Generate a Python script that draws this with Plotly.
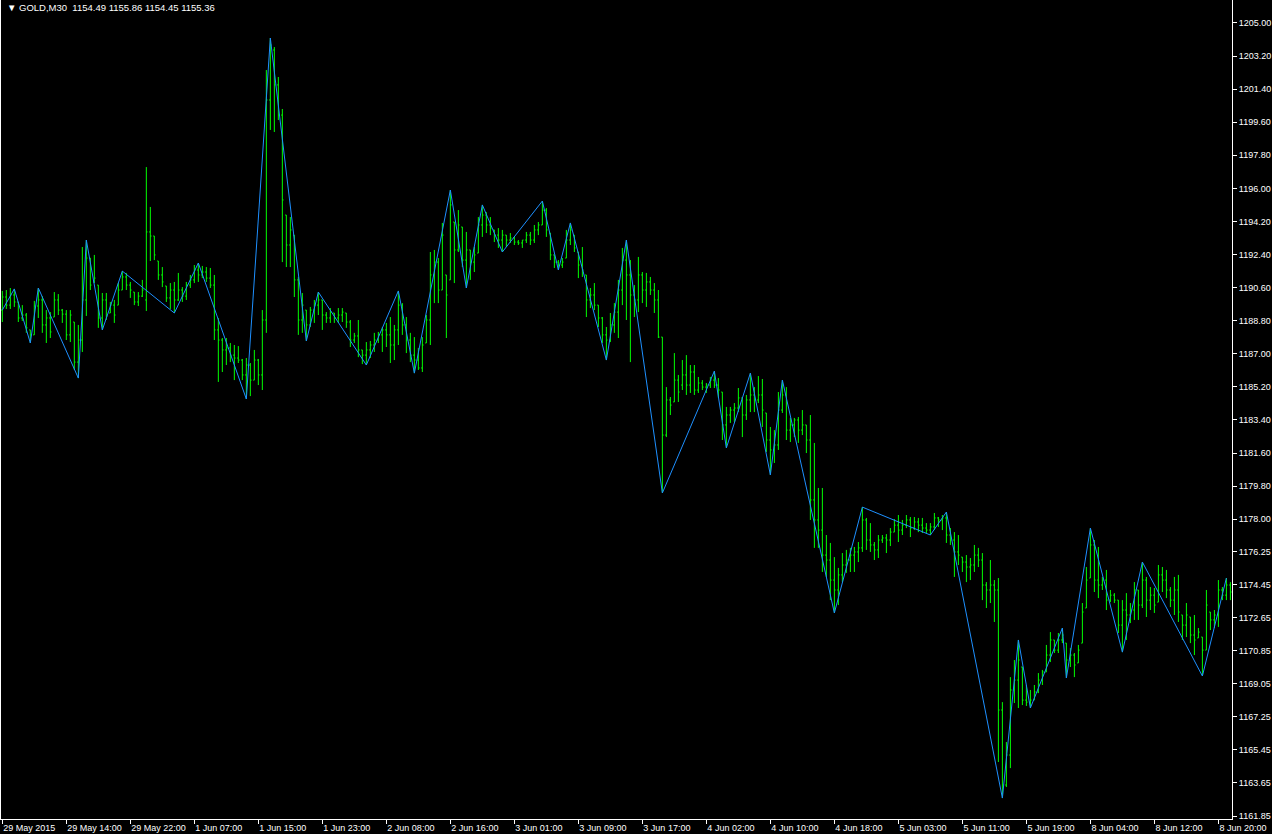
import plotly.graph_objects as go

# GOLD M30, one entry per bar (bar 0 = 29 May 2015 06:00)
bar_open = [
    1189.38, 1190.09, 1189.65, 1190.20, 1189.82, 1188.95, 1189.11, 1188.30, 1188.03, 1189.60,
    1189.93, 1188.57, 1188.95, 1189.00, 1189.93, 1189.38, 1189.16, 1188.03, 1188.73, 1186.55,
    1187.75, 1189.93, 1192.21, 1190.91, 1190.74, 1188.95, 1189.93, 1189.22, 1189.65, 1189.65,
    1190.47, 1191.18, 1190.74, 1190.36, 1189.82, 1190.14, 1189.93, 1193.63, 1193.41, 1192.05,
    1191.29, 1190.69, 1190.04, 1190.47, 1189.93, 1190.47, 1190.14, 1190.74, 1191.02, 1191.56,
    1191.29, 1191.45, 1191.12, 1190.74, 1188.30, 1187.75, 1187.21, 1187.32, 1186.93, 1186.77,
    1186.66, 1185.85, 1186.39, 1185.57, 1186.66, 1185.85, 1188.84, 1200.81, 1203.53, 1201.63,
    1199.99, 1194.55, 1192.92, 1193.46, 1191.02, 1188.84, 1189.38, 1188.57, 1189.38, 1189.65,
    1189.93, 1189.11, 1188.95, 1189.22, 1188.95, 1189.11, 1189.22, 1188.73, 1187.75, 1187.97,
    1187.21, 1186.93, 1187.21, 1187.48, 1187.75, 1188.03, 1188.30, 1188.03, 1187.48, 1188.30,
    1189.65, 1188.57, 1187.75, 1186.93, 1186.66, 1186.23, 1187.59, 1188.84, 1191.29, 1191.99,
    1190.47, 1191.29, 1191.02, 1194.17, 1192.65, 1193.90, 1192.10, 1192.65, 1191.99, 1192.48,
    1194.01, 1194.55, 1194.01, 1193.74, 1193.46, 1193.19, 1193.46, 1193.19, 1193.30, 1193.08,
    1193.03, 1193.19, 1193.46, 1193.19, 1193.74, 1194.01, 1194.82, 1193.57, 1192.38, 1191.99,
    1191.83, 1192.21, 1193.19, 1193.46, 1192.54, 1191.83, 1191.29, 1189.93, 1190.20, 1189.65,
    1188.95, 1188.03, 1187.75, 1188.57, 1189.27, 1190.47, 1192.10, 1191.29, 1190.20, 1189.93,
    1191.29, 1190.47, 1190.91, 1190.47, 1189.93, 1187.91, 1182.58, 1184.49, 1184.38, 1185.57,
    1185.30, 1185.85, 1185.30, 1186.01, 1185.03, 1185.41, 1185.19, 1185.30, 1185.57, 1185.30,
    1184.92, 1183.13, 1183.67, 1183.94, 1184.05, 1184.60, 1183.67, 1184.49, 1184.76, 1184.49,
    1184.76, 1183.78, 1182.31, 1181.77, 1182.04, 1183.94, 1184.76, 1182.85, 1183.13, 1183.40,
    1182.85, 1183.13, 1182.31, 1179.05, 1177.96, 1177.41, 1176.05, 1175.78, 1174.69, 1174.15,
    1174.97, 1175.51, 1175.78, 1176.05, 1176.22, 1176.44, 1177.96, 1176.87, 1176.60, 1176.33,
    1176.87, 1176.98, 1176.87, 1177.30, 1177.68, 1177.41, 1177.68, 1177.96, 1177.52, 1177.85,
    1177.68, 1177.52, 1177.41, 1177.58, 1178.07, 1177.96, 1178.07, 1177.14, 1176.87, 1176.22,
    1175.94, 1175.67, 1175.40, 1175.51, 1176.05, 1175.78, 1174.42, 1174.15, 1174.42, 1174.15,
    1167.62, 1163.54, 1165.17, 1168.71, 1169.25, 1169.96, 1168.16, 1168.05, 1168.16, 1168.60,
    1169.25, 1169.69, 1170.61, 1171.43, 1170.88, 1171.43, 1171.26, 1170.34, 1170.61, 1170.18,
    1171.26, 1173.17, 1174.80, 1176.60, 1174.69, 1174.42, 1174.69, 1173.60, 1173.87, 1173.60,
    1172.24, 1173.06, 1172.79, 1173.06, 1174.15, 1173.33, 1174.69, 1173.60, 1173.87, 1173.49,
    1174.97, 1174.69, 1174.15, 1173.60, 1174.15, 1172.79, 1172.24, 1172.68, 1171.70, 1171.54,
    1171.59, 1170.88, 1172.95, 1172.52, 1172.79, 1174.15, 1173.87, 1174.42,
]

bar_high = [
    1190.42, 1190.47, 1190.58, 1190.53, 1189.82, 1189.65, 1189.22, 1188.30, 1189.88, 1190.58,
    1190.14, 1189.38, 1189.27, 1190.36, 1190.25, 1189.44, 1189.38, 1189.38, 1188.73, 1188.57,
    1192.81, 1193.19, 1192.21, 1192.38, 1190.74, 1190.31, 1190.31, 1189.82, 1189.93, 1190.85,
    1191.50, 1191.40, 1190.91, 1190.36, 1190.36, 1191.02, 1197.16, 1194.99, 1193.41, 1192.05,
    1191.72, 1190.69, 1190.85, 1190.91, 1191.40, 1190.63, 1190.91, 1191.29, 1191.83, 1191.94,
    1191.78, 1191.72, 1191.67, 1191.29, 1188.95, 1187.86, 1187.86, 1187.59, 1187.48, 1187.42,
    1186.72, 1186.77, 1186.50, 1187.21, 1186.72, 1189.38, 1202.44, 1204.18, 1203.69, 1202.06,
    1200.32, 1194.55, 1194.44, 1193.46, 1191.18, 1190.31, 1189.38, 1189.55, 1189.93, 1190.36,
    1189.93, 1189.27, 1189.49, 1189.22, 1189.49, 1189.49, 1189.22, 1188.84, 1188.14, 1188.84,
    1187.21, 1187.64, 1187.70, 1188.14, 1188.19, 1188.46, 1188.68, 1189.00, 1188.57, 1190.42,
    1189.76, 1189.00, 1188.14, 1187.91, 1187.32, 1187.91, 1189.11, 1192.54, 1192.65, 1192.21,
    1194.12, 1191.29, 1195.91, 1194.17, 1194.82, 1193.90, 1193.63, 1192.65, 1192.81, 1194.44,
    1195.10, 1194.71, 1194.44, 1193.74, 1193.84, 1193.74, 1193.46, 1193.57, 1193.36, 1193.19,
    1193.19, 1193.63, 1193.63, 1194.01, 1194.17, 1195.31, 1194.93, 1193.57, 1192.38, 1192.10,
    1192.21, 1193.74, 1194.12, 1193.46, 1192.54, 1192.81, 1191.29, 1190.58, 1190.85, 1189.65,
    1189.00, 1188.46, 1189.22, 1189.76, 1191.02, 1192.76, 1193.19, 1192.10, 1190.74, 1192.27,
    1191.45, 1191.40, 1191.18, 1190.85, 1190.47, 1187.91, 1185.19, 1184.65, 1187.04, 1185.85,
    1186.66, 1186.93, 1186.39, 1186.39, 1185.74, 1185.57, 1185.41, 1185.74, 1186.06, 1185.68,
    1184.92, 1184.11, 1184.11, 1184.32, 1185.14, 1184.60, 1184.76, 1185.95, 1185.19, 1185.79,
    1185.63, 1183.78, 1183.02, 1182.85, 1184.92, 1185.57, 1185.19, 1183.51, 1183.51, 1183.56,
    1183.94, 1183.13, 1183.67, 1182.15, 1179.70, 1179.70, 1177.14, 1176.71, 1175.94, 1175.35,
    1176.16, 1176.33, 1176.44, 1176.49, 1176.76, 1178.66, 1178.07, 1177.79, 1176.76, 1177.14,
    1177.14, 1177.19, 1177.52, 1178.01, 1178.23, 1177.96, 1178.23, 1178.12, 1178.12, 1178.07,
    1178.07, 1177.79, 1177.79, 1178.34, 1178.12, 1178.23, 1178.39, 1177.52, 1177.30, 1177.14,
    1175.94, 1176.05, 1175.89, 1176.60, 1176.44, 1176.16, 1174.58, 1175.78, 1174.69, 1174.80,
    1168.05, 1165.88, 1169.41, 1170.34, 1171.43, 1169.96, 1168.98, 1168.71, 1168.98, 1169.63,
    1169.80, 1171.16, 1171.86, 1171.43, 1171.81, 1172.08, 1171.26, 1170.99, 1170.72, 1171.16,
    1173.44, 1175.40, 1177.52, 1176.87, 1176.49, 1174.86, 1175.24, 1174.15, 1173.98, 1173.60,
    1173.60, 1173.98, 1173.44, 1174.58, 1174.15, 1175.67, 1174.86, 1174.31, 1174.26, 1175.51,
    1175.40, 1175.24, 1174.31, 1174.86, 1174.97, 1172.79, 1173.44, 1172.68, 1172.79, 1172.08,
    1171.59, 1174.15, 1172.95, 1173.06, 1174.69, 1174.31, 1174.80, 1174.58,
]

bar_low = [
    1188.73, 1189.44, 1189.44, 1189.55, 1188.73, 1188.79, 1188.14, 1187.59, 1188.03, 1188.95,
    1188.14, 1187.59, 1187.86, 1189.00, 1189.11, 1188.68, 1187.75, 1187.64, 1186.12, 1185.68,
    1187.10, 1189.06, 1190.47, 1190.85, 1188.41, 1188.30, 1188.84, 1189.22, 1188.68, 1189.65,
    1190.47, 1190.47, 1190.04, 1189.65, 1189.60, 1190.09, 1189.33, 1192.05, 1192.10, 1191.02,
    1190.63, 1189.82, 1189.44, 1189.22, 1189.88, 1189.82, 1189.93, 1190.58, 1190.85, 1190.91,
    1191.12, 1190.91, 1190.58, 1187.75, 1185.47, 1186.01, 1186.39, 1186.55, 1185.57, 1186.50,
    1185.57, 1184.54, 1184.70, 1185.57, 1185.30, 1185.03, 1188.14, 1199.18, 1199.07, 1199.72,
    1191.99, 1191.72, 1191.72, 1190.09, 1188.03, 1188.14, 1187.70, 1188.46, 1188.68, 1189.11,
    1188.30, 1188.68, 1188.68, 1188.68, 1188.68, 1188.73, 1188.41, 1187.37, 1187.59, 1186.82,
    1186.44, 1186.39, 1186.77, 1187.10, 1187.59, 1187.10, 1187.37, 1186.50, 1186.66, 1187.48,
    1188.03, 1187.04, 1186.55, 1185.95, 1186.12, 1186.01, 1187.59, 1187.48, 1189.76, 1189.76,
    1190.47, 1187.86, 1191.02, 1190.85, 1192.54, 1191.72, 1190.58, 1191.02, 1191.45, 1192.48,
    1193.36, 1193.57, 1193.46, 1193.08, 1192.76, 1192.54, 1192.81, 1193.03, 1192.92, 1192.92,
    1192.76, 1193.03, 1192.92, 1193.03, 1193.46, 1194.01, 1193.36, 1192.10, 1191.67, 1191.56,
    1191.67, 1192.21, 1192.92, 1192.54, 1191.12, 1191.18, 1189.00, 1189.49, 1189.38, 1188.46,
    1187.59, 1186.66, 1187.64, 1188.14, 1187.86, 1189.65, 1188.84, 1186.55, 1189.00, 1189.27,
    1189.76, 1189.55, 1190.20, 1189.22, 1187.86, 1179.43, 1182.47, 1183.67, 1184.38, 1184.38,
    1185.03, 1184.76, 1184.87, 1184.76, 1184.87, 1185.03, 1184.87, 1185.14, 1185.14, 1184.60,
    1182.31, 1181.88, 1183.24, 1183.29, 1183.83, 1182.47, 1183.40, 1183.83, 1183.83, 1184.32,
    1183.02, 1181.66, 1180.41, 1181.06, 1181.77, 1183.78, 1182.31, 1182.20, 1182.47, 1182.15,
    1182.58, 1181.60, 1177.96, 1176.44, 1176.44, 1175.13, 1174.86, 1173.60, 1172.90, 1173.33,
    1174.58, 1175.08, 1175.13, 1175.13, 1175.67, 1176.22, 1176.33, 1176.22, 1175.78, 1175.89,
    1176.71, 1176.16, 1176.54, 1177.30, 1176.76, 1177.14, 1177.52, 1177.03, 1177.41, 1177.30,
    1177.25, 1177.25, 1177.14, 1177.41, 1177.58, 1177.41, 1176.71, 1176.60, 1174.86, 1175.51,
    1175.13, 1174.58, 1174.69, 1175.13, 1175.40, 1173.60, 1173.17, 1173.44, 1172.41, 1164.79,
    1162.83, 1163.43, 1164.46, 1168.00, 1167.73, 1167.89, 1167.84, 1167.73, 1168.16, 1168.54,
    1168.98, 1169.69, 1170.23, 1170.72, 1170.72, 1171.26, 1169.36, 1169.96, 1169.41, 1170.18,
    1171.26, 1173.17, 1174.80, 1174.04, 1173.71, 1174.15, 1173.06, 1173.49, 1173.44, 1171.81,
    1170.77, 1171.43, 1172.35, 1172.52, 1172.52, 1173.17, 1172.68, 1173.06, 1172.90, 1173.49,
    1174.04, 1173.71, 1173.22, 1172.79, 1172.41, 1171.43, 1171.59, 1171.26, 1170.61, 1171.54,
    1169.47, 1170.88, 1171.97, 1172.08, 1172.14, 1173.60, 1173.60, 1173.60,
]

bar_close = [
    1190.09, 1189.65, 1190.20, 1189.82, 1188.95, 1189.11, 1188.41, 1188.03, 1189.60, 1189.93,
    1188.57, 1188.95, 1188.19, 1189.93, 1189.38, 1189.16, 1188.03, 1189.11, 1186.55, 1187.75,
    1189.93, 1192.21, 1190.74, 1191.12, 1188.95, 1189.93, 1189.06, 1189.65, 1189.11, 1190.47,
    1191.18, 1190.74, 1190.47, 1189.82, 1190.14, 1190.47, 1193.63, 1193.41, 1192.38, 1191.29,
    1190.91, 1190.04, 1190.47, 1189.93, 1190.47, 1190.14, 1190.74, 1191.02, 1191.56, 1191.29,
    1191.45, 1191.12, 1190.74, 1188.30, 1187.75, 1187.21, 1187.32, 1186.93, 1186.77, 1186.66,
    1185.85, 1186.39, 1185.57, 1186.66, 1185.85, 1188.84, 1200.81, 1203.80, 1201.63, 1199.99,
    1195.37, 1192.92, 1193.74, 1191.02, 1188.84, 1189.65, 1188.57, 1189.38, 1189.65, 1189.93,
    1189.11, 1188.95, 1189.27, 1188.95, 1189.11, 1189.27, 1188.73, 1187.75, 1187.97, 1187.21,
    1186.93, 1187.21, 1187.48, 1187.75, 1188.03, 1188.30, 1188.03, 1187.48, 1188.30, 1189.65,
    1188.57, 1187.75, 1186.93, 1186.66, 1186.23, 1187.48, 1188.84, 1191.29, 1191.99, 1190.47,
    1193.46, 1190.20, 1195.10, 1192.65, 1194.01, 1192.10, 1192.65, 1191.99, 1192.38, 1194.01,
    1194.55, 1194.01, 1193.84, 1193.46, 1193.19, 1193.46, 1193.19, 1193.30, 1193.08, 1193.03,
    1193.19, 1193.46, 1193.19, 1193.74, 1194.01, 1194.82, 1193.74, 1192.38, 1191.99, 1191.83,
    1191.99, 1193.19, 1193.74, 1192.76, 1191.83, 1191.56, 1189.93, 1190.20, 1189.65, 1188.95,
    1188.03, 1187.75, 1188.57, 1189.27, 1190.47, 1192.10, 1191.29, 1190.20, 1189.93, 1191.29,
    1190.47, 1190.91, 1190.47, 1189.93, 1187.91, 1182.58, 1184.49, 1184.21, 1185.57, 1184.92,
    1185.85, 1185.30, 1186.01, 1185.03, 1185.41, 1185.19, 1185.30, 1185.57, 1185.30, 1185.03,
    1183.13, 1183.67, 1183.94, 1184.05, 1184.60, 1183.67, 1184.49, 1184.76, 1184.49, 1184.76,
    1183.94, 1182.31, 1181.77, 1182.04, 1183.94, 1184.76, 1182.85, 1183.13, 1183.40, 1182.85,
    1183.13, 1182.31, 1179.05, 1177.96, 1177.41, 1176.05, 1175.78, 1174.69, 1174.15, 1174.97,
    1175.51, 1175.78, 1176.05, 1176.22, 1176.44, 1177.96, 1176.87, 1176.60, 1176.33, 1176.87,
    1176.98, 1176.87, 1177.30, 1177.68, 1177.41, 1177.68, 1177.96, 1177.52, 1177.85, 1177.68,
    1177.52, 1177.41, 1177.58, 1178.07, 1177.96, 1178.07, 1177.14, 1176.87, 1176.22, 1176.05,
    1175.67, 1175.40, 1175.51, 1176.05, 1175.78, 1174.42, 1174.15, 1174.42, 1174.15, 1167.62,
    1163.54, 1165.17, 1168.71, 1169.25, 1170.34, 1168.16, 1168.05, 1168.16, 1168.60, 1169.25,
    1169.69, 1170.61, 1171.43, 1170.88, 1171.43, 1171.70, 1170.34, 1170.61, 1170.07, 1170.88,
    1172.95, 1174.69, 1176.60, 1174.69, 1174.42, 1174.69, 1173.60, 1173.87, 1173.60, 1172.24,
    1173.06, 1172.79, 1173.06, 1174.15, 1173.33, 1174.69, 1173.60, 1173.87, 1173.33, 1174.97,
    1174.69, 1174.15, 1173.60, 1174.15, 1172.95, 1172.24, 1172.79, 1171.70, 1171.43, 1171.86,
    1170.88, 1173.33, 1172.52, 1172.79, 1174.15, 1173.87, 1174.42, 1174.04,
]

# ZigZag turning points: bar index and price
zigzag_bar = [0, 3, 7, 9, 19, 21, 25, 30, 43, 49, 61, 67, 76, 79, 91, 99, 103, 112, 116, 120,
              125, 135, 139, 142, 151, 156, 165, 178, 181, 187, 192, 195, 208, 215, 232, 236,
              250, 254, 257, 265, 266, 272, 280, 285, 300, 306]
zigzag_price = [1189.38, 1190.53, 1187.59, 1190.58, 1185.68, 1193.19, 1188.30, 1191.50, 1189.22,
                1191.94, 1184.54, 1204.18, 1187.70, 1190.36, 1186.39, 1190.42, 1185.95, 1195.91,
                1190.58, 1195.10, 1192.54, 1195.31, 1191.56, 1194.12, 1186.66, 1193.19, 1179.43,
                1186.06, 1181.88, 1185.95, 1180.41, 1185.57, 1172.90, 1178.66, 1177.14, 1178.39,
                1162.83, 1171.43, 1167.73, 1172.08, 1169.36, 1177.52, 1170.77, 1175.67, 1169.47,
                1174.80]

time_labels = ["29 May 2015", "29 May 14:00", "29 May 22:00", "1 Jun 07:00", "1 Jun 15:00",
               "1 Jun 23:00", "2 Jun 08:00", "2 Jun 16:00", "3 Jun 01:00", "3 Jun 09:00",
               "3 Jun 17:00", "4 Jun 02:00", "4 Jun 10:00", "4 Jun 18:00", "5 Jun 03:00",
               "5 Jun 11:00", "5 Jun 19:00", "8 Jun 04:00", "8 Jun 12:00", "8 Jun 20:00"]

price_ticks = [1205.00, 1203.20, 1201.40, 1199.60, 1197.80, 1196.00, 1194.20, 1192.40, 1190.60,
               1188.80, 1187.00, 1185.20, 1183.40, 1181.60, 1179.80, 1178.00, 1176.25, 1174.45,
               1172.65, 1170.85, 1169.05, 1167.25, 1165.45, 1163.65, 1161.85]

bar_index = list(range(len(bar_close)))
tick_bars = list(range(0, len(bar_close), 16))

green = "#00ff00"
font = dict(family="Liberation Sans, Arial, sans-serif", size=9, color="#ffffff")

fig = go.Figure()
fig.add_trace(go.Ohlc(
    x=bar_index, open=bar_open, high=bar_high, low=bar_low, close=bar_close,
    increasing=dict(line=dict(color=green, width=1)),
    decreasing=dict(line=dict(color=green, width=1)),
    tickwidth=0.3, hoverinfo="skip",
))
fig.add_trace(go.Scatter(
    x=zigzag_bar, y=zigzag_price, mode="lines",
    line=dict(color="#1e90ff", width=1), hoverinfo="skip",
))

fig.update_layout(
    width=1272, height=834,
    paper_bgcolor="#000000", plot_bgcolor="#000000",
    font=font, showlegend=False,
    margin=dict(l=1, r=40, t=0, b=15),
    xaxis=dict(
        range=[-0.33, 307.4], rangeslider=dict(visible=False),
        showgrid=False, zeroline=False,
        showline=True, linecolor="#ffffff", linewidth=1,
        tickmode="array", tickvals=tick_bars, ticktext=time_labels,
        ticks="outside", ticklen=4, tickcolor="#ffffff",
        ticklabelposition="outside right", ticklabelstandoff=0,
        tickfont=font,
    ),
    yaxis=dict(
        side="right", range=[1161.69, 1206.25],
        showgrid=False, zeroline=False,
        showline=True, mirror=True, linecolor="#ffffff", linewidth=1,
        tickmode="array", tickvals=price_ticks,
        ticktext=[f"{p:.2f}" for p in price_ticks],
        ticks="outside", ticklen=4, tickcolor="#ffffff",
        tickfont=font,
    ),
)

fig.add_annotation(
    xref="paper", yref="paper", x=0.003, y=1, xanchor="left", yanchor="top",
    text="▼ GOLD,M30&nbsp;&nbsp;1154.49 1155.86 1154.45 1155.36",
    showarrow=False, font=dict(family=font["family"], size=9.5, color="#ffffff"),
)

fig.write_html(
    "out.html",
    config={"displayModeBar": False},
    post_script="document.body.style.margin='0';document.body.style.background='#000';",
)
